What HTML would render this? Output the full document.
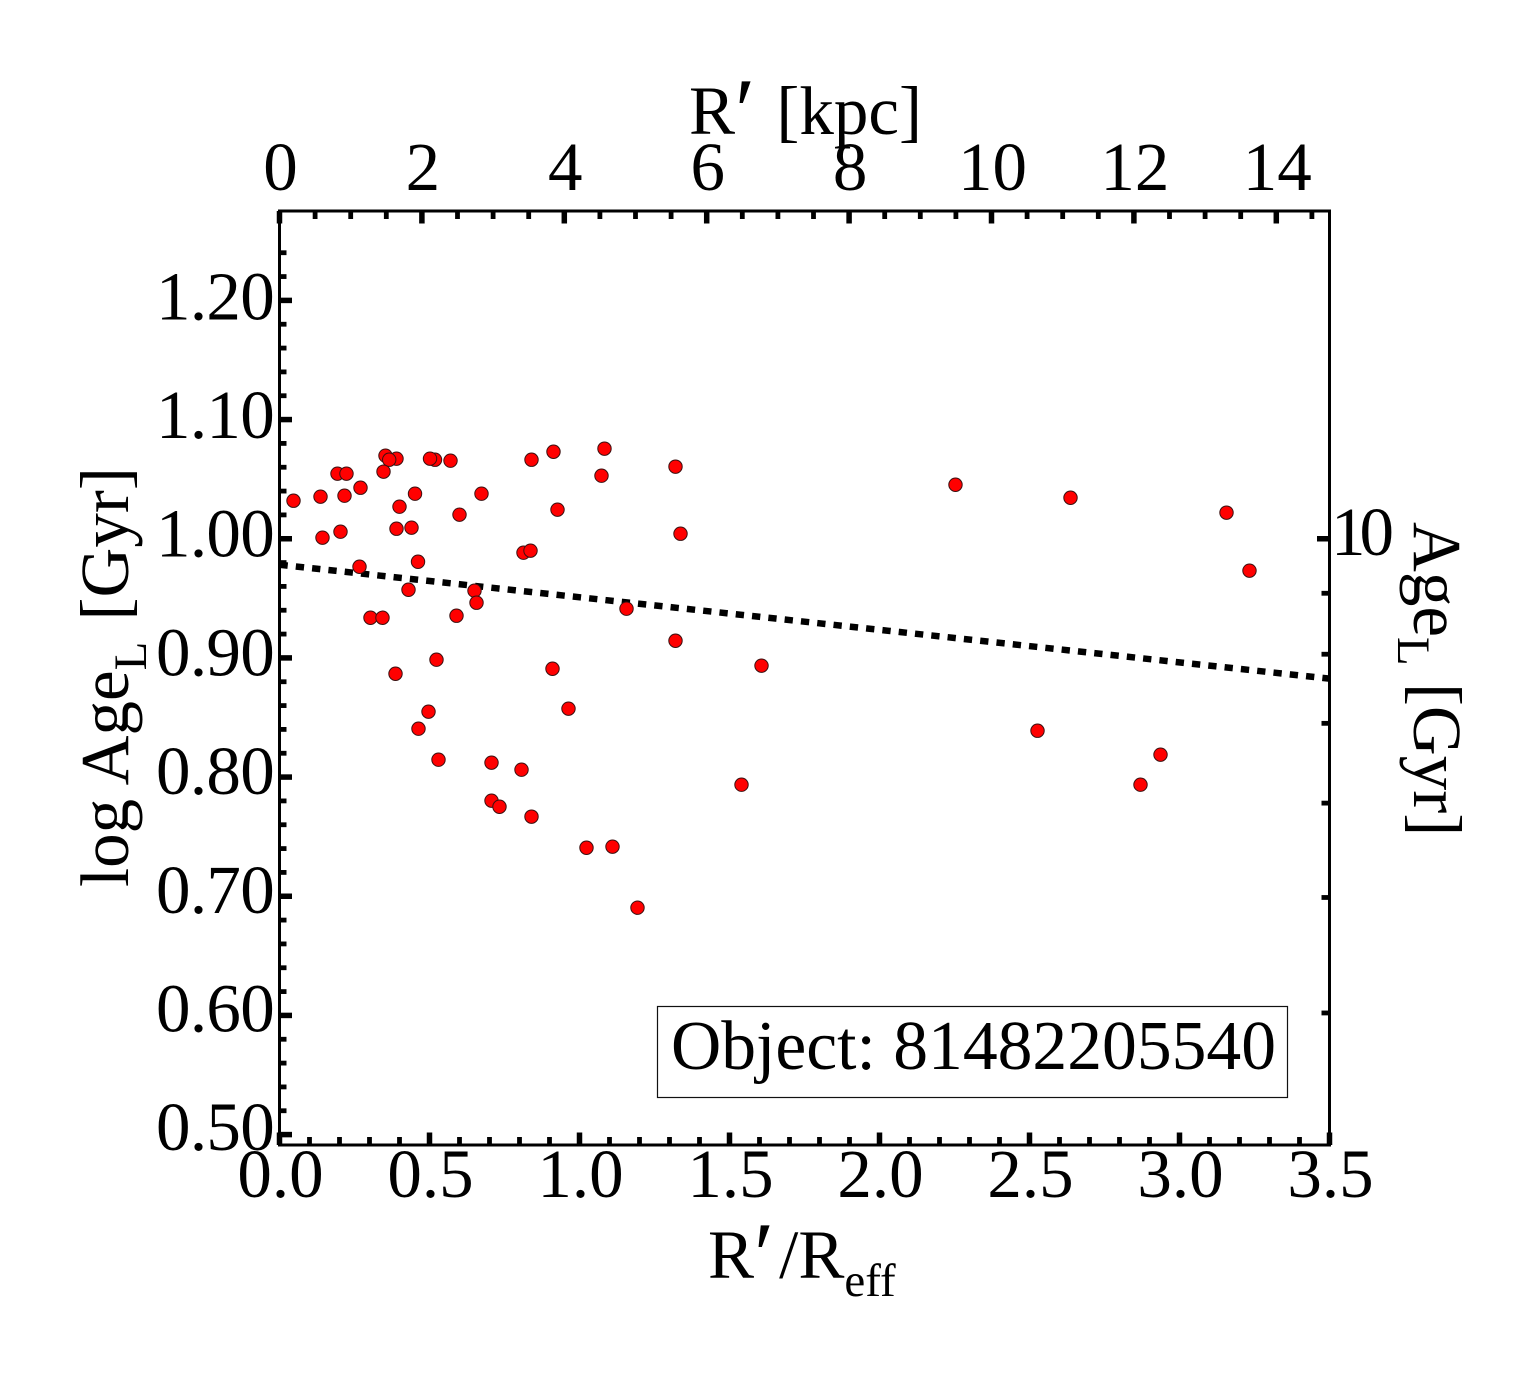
<!DOCTYPE html>
<html lang="en">
<head>
<meta charset="utf-8">
<title>Object 81482205540 log age profile</title>
<style>
html,body{margin:0;padding:0;background:#fff;}
svg{display:block;}
text{font-family:"Liberation Serif",serif;fill:#000;}
</style>
</head>
<body>
<svg id="chart" xmlns="http://www.w3.org/2000/svg" width="1540" height="1375" viewBox="0 0 1540 1375">
  <rect x="0" y="0" width="1540" height="1375" fill="#fff"/>
  <g id="line-layer"></g>
  <g id="point-layer"></g>
  <g id="axis-layer"></g>
  <rect x="657.5" y="1006.5" width="630" height="91" fill="#fff" stroke="#111" stroke-width="1.2"/>
  <text x="671" y="1069" font-size="69.6">Object: 81482205540</text>
  <text x="689" y="134" font-size="69" xml:space="preserve">R<tspan font-size="92" dy="8">′</tspan><tspan dy="-8" dx="4"> [kpc]</tspan></text>
  <text x="708" y="1278" font-size="69" xml:space="preserve">R<tspan font-size="92" dy="8">′</tspan><tspan dy="-8" dx="5">/R</tspan><tspan font-size="47" dy="18">eff</tspan></text>
  <text transform="translate(128,887) rotate(-90)" font-size="69" xml:space="preserve">log Age<tspan font-size="47" dy="18">L</tspan><tspan dy="-18" dx="4"> [Gyr]</tspan></text>
  <text transform="translate(1414,522) rotate(90)" font-size="69" xml:space="preserve">Age<tspan font-size="47" dy="16">L</tspan><tspan dy="-16"> [Gyr]</tspan></text>
</svg>
<script>
// Chart data
const pointRadius = [0.0467,0.1367,0.1933,0.2233,0.2167,0.1433,0.2033,0.27,0.2667,0.3033,0.3433,0.3533,0.39,0.3657,0.3467,0.44,0.39,0.4,0.4517,0.5183,0.5017,0.57,0.6,0.6733,0.4617,0.43,0.65,0.6567,0.59,0.3867,0.5233,0.4967,0.4633,0.53,0.7067,0.7067,0.7333,0.8067,0.84,0.8133,0.8367,0.84,0.9133,0.9267,1.0833,1.0733,1.1567,0.91,0.9633,1.0233,1.11,1.1933,1.32,1.3367,1.32,1.6067,1.54,2.2533,2.6367,2.5267,2.87,2.9367,3.1567,3.2333];
const pointLogAge = [1.0319,1.0353,1.0546,1.0546,1.0361,1.0009,1.0059,1.0428,0.9765,0.9337,0.9337,1.0697,1.0672,1.0663,1.0563,1.0093,1.0084,1.0269,1.0378,1.0663,1.0672,1.0655,1.0202,1.0378,0.9807,0.9572,0.9564,0.9463,0.9354,0.8867,0.8985,0.8549,0.8406,0.8146,0.8121,0.7802,0.7751,0.8062,0.7668,0.9883,0.99,1.0663,1.073,1.0244,1.0756,1.0529,0.9413,0.8909,0.8574,0.7407,0.7416,0.6904,1.0605,1.0042,0.9144,0.8935,0.7936,1.0453,1.0344,0.8389,0.7936,0.8188,1.0219,0.9732];
const trendRadius = [0, 3.5];
const trendLogAge = [0.9782, 0.8826];
const bottomTicks = [0, 0.5, 1, 1.5, 2, 2.5, 3, 3.5];
const bottomTickLabels = ["0.0","0.5","1.0","1.5","2.0","2.5","3.0","3.5"];
const topTicks = [0, 2, 4, 6, 8, 10, 12, 14];
const topTickLabels = ["0","2","4","6","8","10","12","14"];
const leftTicks = [0.5, 0.6, 0.7, 0.8, 0.9, 1.0, 1.1, 1.2];
const leftTickLabels = ["0.50","0.60","0.70","0.80","0.90","1.00","1.10","1.20"];
const rightMinorAges = [4, 5, 6, 7, 8, 9];
const rightMajorAges = [10];
const rightTickLabels = ["10"];

// Axis functions
const NS = "http://www.w3.org/2000/svg";
const plotLeft = 279.5, plotRight = 1329.5, plotTop = 211, plotBottom = 1145;
const xScale = v => plotLeft + v * 300;
const kpcScale = v => plotLeft + v * 71.2;
const yScale = v => 300.4 + (1.2 - v) * 1191.7;
const ageScale = v => yScale(Math.log10(v));
const axisLayer = document.getElementById("axis-layer");
const pointLayer = document.getElementById("point-layer");
const lineLayer = document.getElementById("line-layer");

function drawTick(x1, y1, x2, y2, width, name) {
  const t = document.createElementNS(NS, "line");
  t.setAttribute("x1", x1);
  t.setAttribute("y1", y1);
  t.setAttribute("x2", x2);
  t.setAttribute("y2", y2);
  t.setAttribute("stroke", "#000");
  t.setAttribute("stroke-width", width);
  
  
  axisLayer.appendChild(t);
}
function drawLabel(x, y, anchor, str, name, spacing) {
  const t = document.createElementNS(NS, "text");
  t.setAttribute("x", x);
  t.setAttribute("y", y);
  t.setAttribute("text-anchor", anchor);
  t.setAttribute("font-size", "69");
  t.setAttribute("letter-spacing", spacing);
  t.textContent = str;
  
  
  axisLayer.appendChild(t);
}

// Trend line
const trend = document.createElementNS(NS, "line");
trend.setAttribute("x1", xScale(trendRadius[0]));
trend.setAttribute("y1", yScale(trendLogAge[0]));
trend.setAttribute("x2", xScale(trendRadius[1]));
trend.setAttribute("y2", yScale(trendLogAge[1]));
trend.setAttribute("stroke", "#000");
trend.setAttribute("stroke-width", "6.5");
trend.setAttribute("stroke-dasharray", "8.3 8.09");


lineLayer.appendChild(trend);

// Scatter points
pointRadius.forEach((r, i) => {
  const c = document.createElementNS(NS, "circle");
  c.setAttribute("cx", xScale(r));
  c.setAttribute("cy", yScale(pointLogAge[i]));
  c.setAttribute("r", "6.7");
  c.setAttribute("fill", "#ff0000");
  c.setAttribute("stroke", "#3a1010");
  c.setAttribute("stroke-width", "1");
  
  
  pointLayer.appendChild(c);
});

// Frame
const frame = document.createElementNS(NS, "rect");
frame.setAttribute("x", plotLeft);
frame.setAttribute("y", plotTop);
frame.setAttribute("width", plotRight - plotLeft);
frame.setAttribute("height", plotBottom - plotTop);
frame.setAttribute("fill", "none");
frame.setAttribute("stroke", "#000");
frame.setAttribute("stroke-width", "3");


axisLayer.appendChild(frame);

// Bottom axis: R'/Reff
for (let i = 0; i <= 35; i++) {
  const v = i / 10;
  const major = i % 5 === 0;
  drawTick(xScale(v), plotBottom, xScale(v), plotBottom - (major ? 12.5 : 8), major ? 5.5 : 4.8, major ? "bottom-major-tick" : "bottom-minor-tick");
}
bottomTicks.forEach((v, i) => drawLabel(xScale(v) + 1, 1197, "middle", bottomTickLabels[i], "bottom-tick-label", "0"));

// Top axis: R' in kpc
for (let i = 0; i <= 29; i++) {
  const v = i / 2;
  const major = i % 4 === 0;
  drawTick(kpcScale(v), plotTop, kpcScale(v), plotTop + (major ? 12.5 : 8), major ? 5.5 : 4.8, major ? "top-major-tick" : "top-minor-tick");
}
topTicks.forEach((v, i) => drawLabel(kpcScale(v) + 1, 190, "middle", topTickLabels[i], "top-tick-label", "0"));

// Left axis: log age
for (let i = 25; i <= 62; i++) {
  const v = i / 50;
  const major = i % 5 === 0;
  drawTick(plotLeft, yScale(v), plotLeft + (major ? 12.5 : 7), yScale(v), major ? 5.5 : 4.8, major ? "left-major-tick" : "left-minor-tick");
}
leftTicks.forEach((v, i) => drawLabel(274, yScale(v) + 19 - (1.2 - v) * 5, "end", leftTickLabels[i], "left-tick-label", "-0.7"));

// Right axis: age in Gyr (log spaced)
rightMinorAges.forEach(v => drawTick(plotRight, ageScale(v), plotRight - 8, ageScale(v), 4.8, "right-minor-tick"));
rightMajorAges.forEach((v, i) => {
  drawTick(plotRight, ageScale(v), plotRight - 12.5, ageScale(v), 5.5, "right-major-tick");
  drawLabel(1331, ageScale(v) + 16.5, "start", rightTickLabels[i], "right-tick-label", "-6");
});
</script>
</body>
</html>
